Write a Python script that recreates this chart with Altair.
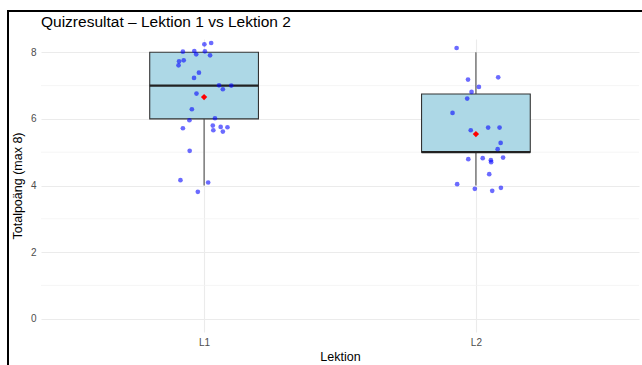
import altair as alt
import pandas as pd

# Quiz scores per lesson (integer points) with the jitter used when plotting the dots
lessons = ["L1", "L2"]

l1_scores = [8, 8, 8, 8, 8, 8, 8, 8, 8, 8,
             7, 7, 7, 7, 7, 7,
             6, 6, 6, 6, 6, 6, 6, 6, 6,
             5, 4, 4, 4]
l1_dx = [0.001, 0.026, -0.078, -0.036, -0.029, 0.003, 0.022, -0.092, -0.075, -0.094,
         -0.019, -0.037, 0.055, 0.069, 0.100, -0.028,
         -0.045, -0.054, 0.040, -0.078, 0.032, 0.034, 0.061, 0.069, 0.086,
         -0.053, -0.087, 0.015, -0.023]
l1_dy = [0.24, 0.28, 0.02, 0.04, -0.06, 0.03, -0.09, -0.27, -0.24, -0.39,
         0.39, 0.23, 0.01, -0.11, 0.00, -0.24,
         0.29, -0.04, 0.02, -0.28, -0.20, -0.34, -0.24, -0.38, -0.25,
         0.04, 0.16, 0.09, -0.19]

l2_scores = [8,
             7, 7, 7, 7, 7,
             6, 6, 6, 6,
             5, 5, 5, 5, 5, 5, 5,
             4, 4, 4, 4, 4]
l2_dx = [-0.071,
         -0.029, 0.082, 0.011, -0.016, -0.032,
         -0.086, -0.019, 0.045, 0.087,
         0.091, 0.080, -0.028, 0.025, 0.055, 0.056, 0.100,
         0.049, -0.069, -0.004, 0.060, 0.092]
l2_dy = [0.13,
         0.18, 0.25, -0.04, -0.19, -0.39,
         0.18, -0.34, -0.26, -0.26,
         0.28, 0.09, -0.21, -0.18, -0.24, -0.30, -0.16,
         0.34, 0.04, -0.10, -0.16, -0.07]

y_ticks = [0, 2, 4, 6, 8]
y_minor = [1, 3, 5, 7]

TITLE = "Quizresultat – Lektion 1 vs Lektion 2"

rows = []
for i, (name, scores, dxs, dys) in enumerate(
        [("L1", l1_scores, l1_dx, l1_dy), ("L2", l2_scores, l2_dx, l2_dy)]):
    for s, dx, dy in zip(scores, dxs, dys):
        rows.append({"lektion": name, "pos": i + 1, "score": s,
                     "px": i + 1 + dx, "py": s + dy})
df = pd.DataFrame(rows)
minor_df = pd.DataFrame({"y": y_minor})

FONT = "Liberation Sans"
W, H = 598, 293
BOX_HALF = 0.2

xscale = alt.Scale(domain=[0.4, len(lessons) + 0.6], nice=False, zero=False)
yscale = alt.Scale(domain=[-0.4, 8.4], nice=False, zero=False)

label_expr = " : ".join(
    [f"datum.value == {i + 1} ? '{n}'" for i, n in enumerate(lessons[:-1])]
    + [f"'{lessons[-1]}'"])

x_axis = alt.Axis(values=list(range(1, len(lessons) + 1)), labelExpr=label_expr,
                  title="Lektion", titleFontSize=12.5, titlePadding=3,
                  labelPadding=5, grid=True, gridColor="#ebebeb", gridWidth=1.1)
y_axis = alt.Axis(values=y_ticks, title="Totalpoäng (max 8)", titleFontSize=12.5,
                  titlePadding=6, labelPadding=5, grid=True,
                  gridColor="#ebebeb", gridWidth=1.1)

base = alt.Chart(df)

# lighter minor grid lines between the labelled values
minor = alt.Chart(minor_df).mark_rule(color="#f2f2f2", strokeWidth=0.8).encode(
    y=alt.Y("y:Q", scale=yscale, axis=y_axis))

# whiskers: most extreme scores within 1.5 * IQR of the box
whisk = (base
         .transform_joinaggregate(q1="q1(score)", q3="q3(score)", groupby=["lektion"])
         .transform_filter("datum.score >= datum.q1 - 1.5 * (datum.q3 - datum.q1) && "
                           "datum.score <= datum.q3 + 1.5 * (datum.q3 - datum.q1)")
         .transform_aggregate(lo="min(score)", hi="max(score)", q1="min(q1)", q3="min(q3)",
                              groupby=["lektion", "pos"]))

upper = whisk.mark_rule(color="#4d4d4d", strokeWidth=1.1).encode(
    x=alt.X("pos:Q", scale=xscale, axis=x_axis),
    y=alt.Y("q3:Q", scale=yscale, axis=y_axis),
    y2="hi:Q")
lower = whisk.mark_rule(color="#4d4d4d", strokeWidth=1.1).encode(
    x=alt.X("pos:Q", scale=xscale, axis=x_axis),
    y=alt.Y("lo:Q", scale=yscale, axis=y_axis),
    y2="q1:Q")

stats = (base
         .transform_aggregate(q1="q1(score)", med="median(score)", q3="q3(score)",
                              mean="mean(score)", groupby=["lektion", "pos"])
         .transform_calculate(left=f"datum.pos - {BOX_HALF}", right=f"datum.pos + {BOX_HALF}"))

box = stats.mark_rect(fill="#add8e6", stroke="#333333", strokeWidth=1.1).encode(
    x=alt.X("left:Q", scale=xscale, axis=x_axis), x2="right:Q",
    y=alt.Y("q1:Q", scale=yscale, axis=y_axis), y2="q3:Q")

median = stats.mark_rule(color="#222222", strokeWidth=2.2).encode(
    x=alt.X("left:Q", scale=xscale, axis=x_axis), x2="right:Q",
    y=alt.Y("med:Q", scale=yscale, axis=y_axis))

points = base.mark_circle(color="#0000ff", opacity=0.58, size=22).encode(
    x=alt.X("px:Q", scale=xscale, axis=x_axis),
    y=alt.Y("py:Q", scale=yscale, axis=y_axis))

mean = stats.mark_point(shape="diamond", filled=True, color="#ff0000", size=40,
                        opacity=1).encode(
    x=alt.X("pos:Q", scale=xscale, axis=x_axis),
    y=alt.Y("mean:Q", scale=yscale, axis=y_axis))

# black frame along the top and left of the figure
frame_top = base.mark_rule(color="black", strokeWidth=2).encode(
    x=alt.value(-34), x2=alt.value(W + 20), y=alt.value(-28))
frame_left = base.mark_rule(color="black", strokeWidth=2).encode(
    x=alt.value(-33), y=alt.value(-29), y2=alt.value(H + 60))

# plot title, left-aligned with the plotting area
title = alt.Chart(pd.DataFrame({"t": [TITLE]})).mark_text(
    align="left", baseline="alphabetic", font=FONT, fontSize=15.5, color="black"
).encode(x=alt.value(0), y=alt.value(-12), text="t:N")

chart = (alt.layer(minor, upper, lower, box, median, points, mean,
                   frame_top, frame_left, title)
         .properties(
             width=W, height=H,
             background="white",
             autosize=alt.AutoSizeParams(type="none"),
             padding={"left": 41, "top": 39, "right": 3, "bottom": 33})
         .configure_view(strokeWidth=0)
         .configure_axis(domain=False, ticks=False, tickSize=0, labelFont=FONT,
                         titleFont=FONT, labelFontSize=10, labelColor="#4d4d4d",
                         titleColor="black", titleFontWeight="normal"))

chart.save("out.html", embed_options={"renderer": "svg", "actions": False})
